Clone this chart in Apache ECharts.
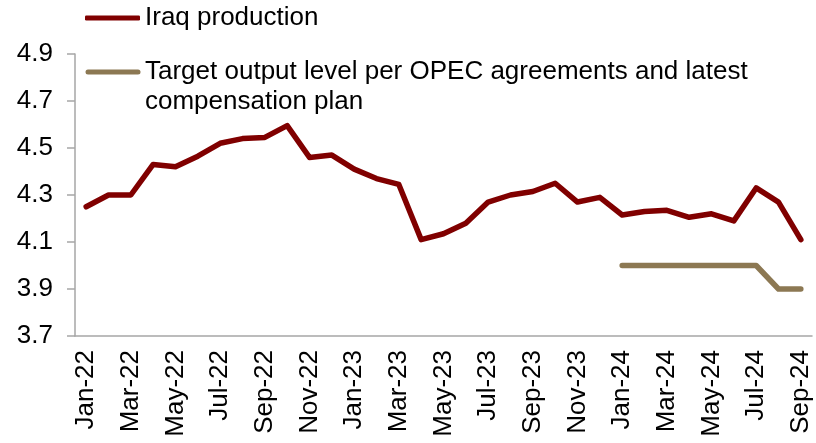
<!DOCTYPE html>
<html>
<head>
<meta charset="utf-8">
<script src="https://cdn.jsdelivr.net/npm/echarts@6/dist/echarts.min.js"></script>
<style>
html,body{margin:0;padding:0;background:#fff;}
#chart{width:816px;height:443px;}
</style>
</head>
<body>
<div id="chart"></div>
<script>
var months = ["Jan-22","Feb-22","Mar-22","Apr-22","May-22","Jun-22","Jul-22","Aug-22","Sep-22","Oct-22","Nov-22","Dec-22",
              "Jan-23","Feb-23","Mar-23","Apr-23","May-23","Jun-23","Jul-23","Aug-23","Sep-23","Oct-23","Nov-23","Dec-23",
              "Jan-24","Feb-24","Mar-24","Apr-24","May-24","Jun-24","Jul-24","Aug-24","Sep-24"];
var iraqProduction = [4.25,4.30,4.30,4.43,4.42,4.465,4.52,4.54,4.545,4.595,4.46,4.47,
                      4.41,4.37,4.345,4.11,4.135,4.18,4.27,4.30,4.315,4.35,4.27,4.29,
                      4.215,4.23,4.235,4.205,4.22,4.19,4.33,4.27,4.11];
var targetOutput = [null,null,null,null,null,null,null,null,null,null,null,null,
                    null,null,null,null,null,null,null,null,null,null,null,null,
                    4.0,4.0,4.0,4.0,4.0,4.0,4.0,3.9,3.9];
var yTicks = [3.7,3.9,4.1,4.3,4.5,4.7,4.9];
var seriesNames = ["Iraq production", "Target output level per OPEC agreements and latest\ncompensation plan"];

var FONT = '"Liberation Sans", Arial, sans-serif';
var RED = '#800000', TAN = '#8c7853';
var chart = echarts.init(document.getElementById('chart'), null, {renderer:'canvas'});
chart.setOption({
  animation: false,
  backgroundColor: '#fff',
  textStyle: {fontFamily: FONT},
  grid: {left: 75, right: 4, top: 54, bottom: 107, containLabel: false},
  legend: [
    {
      data: [{name: seriesNames[0], icon: 'roundRect'}],
      left: 85, top: 3, padding: 0, orient: 'vertical',
      itemWidth: 55, itemHeight: 5, selectedMode: false,
      textStyle: {fontFamily: FONT, fontSize: 26, color: '#000', lineHeight: 30}
    },
    {
      data: [{name: seriesNames[1], icon: 'rect', itemStyle: {opacity: 0}}],
      left: 85, top: 57, padding: 0, orient: 'vertical',
      itemWidth: 55, itemHeight: 5, selectedMode: false,
      textStyle: {fontFamily: FONT, fontSize: 26, color: '#000', lineHeight: 30}
    }
  ],
  graphic: [
    {
      type: 'line', silent: true,
      shape: {x1: 88, y1: 72, x2: 138, y2: 72},
      style: {stroke: TAN, lineWidth: 5, lineCap: 'round'}
    }
  ],
  xAxis: {
    type: 'category',
    data: months,
    boundaryGap: true,
    axisLine: {lineStyle: {color: '#a6a6a6', width: 1.5}},
    axisTick: {interval: 1, length: 8, lineStyle: {color: '#a6a6a6', width: 1.5}},
    axisLabel: {interval: 1, rotate: 90, margin: 14, fontSize: 26, color: '#000', fontFamily: FONT},
    splitLine: {show: false}
  },
  yAxis: {
    type: 'value',
    min: 3.7, max: 4.9,
    axisLine: {show: true, lineStyle: {color: '#a6a6a6', width: 1.5}},
    axisTick: {show: true, length: 8, customValues: yTicks, lineStyle: {color: '#a6a6a6', width: 1.5}},
    axisLabel: {customValues: yTicks, margin: 22, fontSize: 26, color: '#000', fontFamily: FONT,
      formatter: function(v){ return v.toFixed(1); }},
    splitLine: {show: false}
  },
  series: [
    {
      name: seriesNames[0], type: 'line', data: iraqProduction,
      symbol: 'none', color: RED,
      lineStyle: {width: 5.5, color: RED, cap: 'round', join: 'round'}
    },
    {
      name: seriesNames[1], type: 'line', data: targetOutput,
      symbol: 'none', color: TAN,
      lineStyle: {width: 5.5, color: TAN, cap: 'round', join: 'round'}
    }
  ]
});
</script>
</body>
</html>
